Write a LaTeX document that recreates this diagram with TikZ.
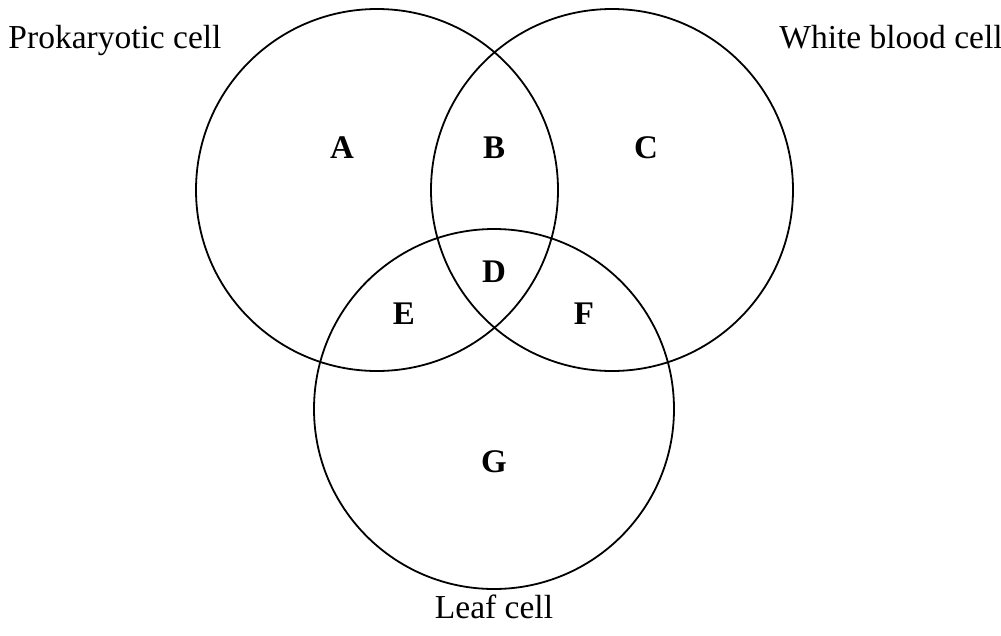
\documentclass[tikz,border=0pt]{standalone}
\usepackage{fontspec}
\setmainfont{Liberation Serif}
\begin{document}
\begin{tikzpicture}[x=1pt,y=-1pt,
  ring/.style={draw=black,line width=1.8pt},
  setname/.style={font=\fontsize{33.5}{40}\selectfont,inner sep=0pt,anchor=base},
  region/.style={font=\fontsize{33}{40}\selectfont\bfseries,inner sep=0pt}]
\useasboundingbox (0,0) rectangle (1001,635);
% the three sets
\draw[ring] (377,190) circle (181);
\draw[ring] (612,190) circle (181);
\draw[ring] (494,409) circle (180);
% set names (placed on their baselines)
\node[setname] (pro) at (115,48) {Prokaryotic cell};
\node[setname] (wbc) at (891,48) {White blood cell};
\node[setname] (leaf) at (494,618) {Leaf cell};
% regions
\node[region] (A) at (342,148) {A};
\node[region] (B) at (494,148) {B};
\node[region] (C) at (646,148) {C};
\node[region] (D) at (494,272) {D};
\node[region] (E) at (404,314) {E};
\node[region] (F) at (584,314) {F};
\node[region] (G) at (494,462) {G};
\end{tikzpicture}
\end{document}
